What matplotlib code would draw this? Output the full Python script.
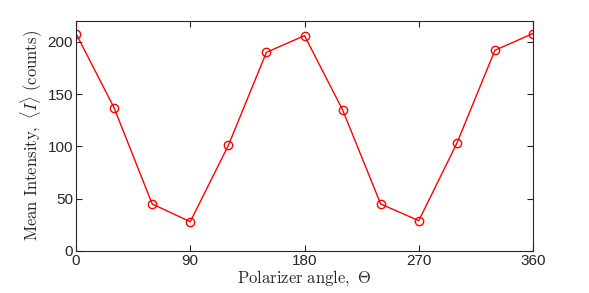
import matplotlib.pyplot as plt
import numpy as np

# Polarizer angle (deg) and mean intensity (counts)
angles = [0, 30, 60, 90, 120, 150, 180, 210, 240, 270, 300, 330, 360]
intensity = [208, 137, 45, 28, 101, 190, 206, 135, 45, 29, 103, 192, 208]
xticks = [0, 90, 180, 270, 360]
yticks = [0, 50, 100, 150, 200]

plt.rcParams['font.family'] = ['Liberation Sans', 'DejaVu Sans']
plt.rcParams['mathtext.fontset'] = 'cm'

fig = plt.figure(figsize=(5.89, 2.93), dpi=100)
ax = fig.add_axes([76 / 589, 1 - 251 / 293, (533 - 76) / 589, (251 - 21) / 293])

ax.plot(angles, intensity, color='red', lw=1, marker='o', ms=6,
        mfc='none', mec='red', mew=1)

ax.set_xlim(0, 360)
ax.set_ylim(0, 220)
ax.set_xticks(xticks)
ax.set_yticks(yticks)

grey = (0.15, 0.15, 0.15)
for s in ax.spines.values():
    s.set_color(grey)
    s.set_linewidth(0.8)
ax.tick_params(direction='in', top=True, right=True, length=4, width=0.8,
               color=grey, labelcolor=grey, labelsize=11, pad=2)

ax.set_xlabel(r'$\mathrm{Polarizer\ angle,\ }\Theta$', fontsize=12, color=grey, labelpad=0)
ax.set_ylabel(r'$\mathrm{Mean\ Intensity,\ }\langle I\rangle\ \mathrm{(counts)}$',
              fontsize=12, color=grey, labelpad=3)

fig.savefig('out.png', dpi=100)
plt.close(fig)
